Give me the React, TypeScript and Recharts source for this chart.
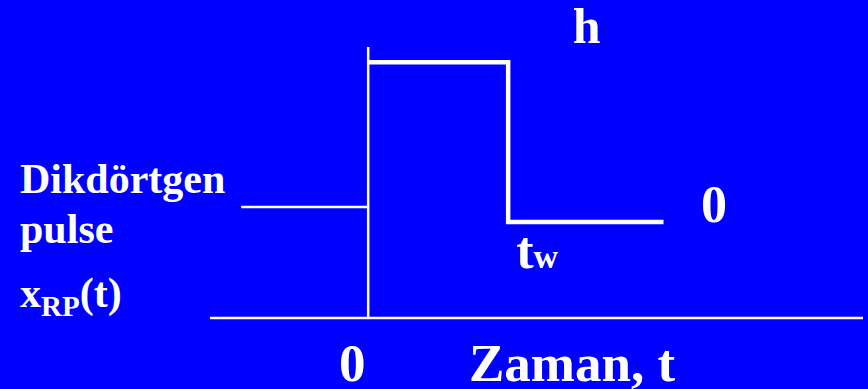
import { LineChart, Line, XAxis, YAxis, ReferenceLine, ReferenceDot, Label } from 'recharts';

// time in units of t_w, amplitude in units of h
const pulseT = [0, 1, 1, 2.11];
const pulseV = [1, 1, 0.375, 0.375];
const preT = [-0.907, 0];
const preV = [0.434, 0.434];
const axisTop = 1.059;
const xTicks = [0];

const pulseData = pulseT.map((t, i) => ({ t, v: pulseV[i] }));
const preData = preT.map((t, i) => ({ t, v: preV[i] }));

const FONT = '"Liberation Serif", "Times New Roman", serif';
const BLUE = '#0000FF';

const txt = { fill: '#fff', fontFamily: FONT, fontWeight: 700 } as const;

export default function App() {
  return (
    <div style={{ position: 'absolute', left: 0, top: 0, width: 868, height: 389, background: BLUE }}>
      <LineChart width={868} height={389} data={pulseData} margin={{ top: 11, right: 5, bottom: 0, left: 0 }}>
        <XAxis
          dataKey="t"
          type="number"
          domain={[-1.13, 3.535]}
          ticks={xTicks}
          height={71}
          axisLine={{ stroke: '#fff', strokeWidth: 2.5 }}
          tickLine={false}
          tickSize={0}
          tickMargin={0}
          tick={(p: any) => (
            <text x={p.x - 16} y={p.y + 63} textAnchor="middle" fontSize={53} {...txt}>
              {p.payload.value}
            </text>
          )}
        >
          <Label
            content={(p: any) => (
              <text x={p.viewBox.x + 362} y={p.viewBox.y + 63} textAnchor="middle" fontSize={53} {...txt}>
                Zaman, t
              </text>
            )}
          />
        </XAxis>
        <YAxis type="number" domain={[0, 1.2]} width={210} axisLine={false} tick={false} tickLine={false}>
          <Label
            content={(p: any) => (
              <g>
                <text x={20} y={193} fontSize={42} {...txt}>Dikdörtgen</text>
                <text x={20} y={243} fontSize={42} {...txt}>pulse</text>
                <text x={20} y={307} fontSize={42} {...txt}>
                  x<tspan fontSize={29} dy={9}>RP</tspan><tspan dy={-9}>(t)</tspan>
                </text>
              </g>
            )}
          />
        </YAxis>
        <ReferenceLine
          segment={[{ x: 0, y: 0 }, { x: 0, y: axisTop }]}
          stroke="#fff"
          strokeWidth={2.5}
        />
        <Line
          data={preData}
          dataKey="v"
          stroke="#fff"
          strokeWidth={2.5}
          dot={false}
          activeDot={false}
          isAnimationActive={false}
        />
        <Line
          data={pulseData}
          dataKey="v"
          stroke="#fff"
          strokeWidth={4.5}
          strokeLinejoin="miter"
          dot={false}
          activeDot={false}
          isAnimationActive={false}
        />
        <ReferenceDot x={1.56} y={1.075} r={0} stroke="none" fill="none"
          label={(p: any) => (
            <text x={p.viewBox.x} y={p.viewBox.y} textAnchor="middle" fontSize={50} {...txt}>h</text>
          )}
        />
        <ReferenceDot x={2.47} y={0.375} r={0} stroke="none" fill="none"
          label={(p: any) => (
            <text x={p.viewBox.x} y={p.viewBox.y} textAnchor="middle" fontSize={52} {...txt}>0</text>
          )}
        />
        <ReferenceDot x={1.057} y={0.195} r={0} stroke="none" fill="none"
          label={(p: any) => (
            <text x={p.viewBox.x} y={p.viewBox.y} fontSize={52} {...txt}>
              t<tspan fontSize={34}>w</tspan>
            </text>
          )}
        />
      </LineChart>
    </div>
  );
}
